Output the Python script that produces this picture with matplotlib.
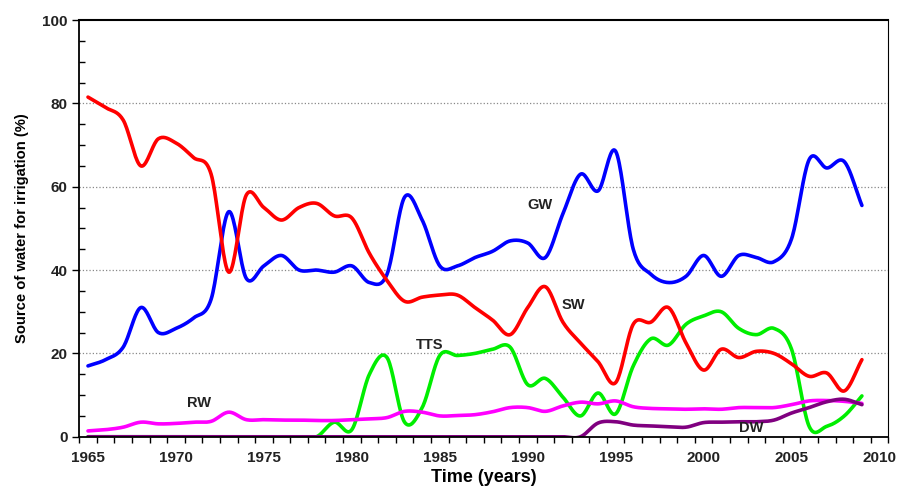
import matplotlib.pyplot as plt
import numpy as np
from matplotlib.ticker import MultipleLocator, FixedLocator

plt.rcParams['font.family'] = ['Liberation Sans', 'DejaVu Sans']

years = list(range(1965, 2010))

sw = [81.5, 79, 76, 65, 71.5, 70.5, 67, 63, 39.5, 58, 55, 52, 55, 56, 53,
      52.5, 44, 37.5, 32.5, 33.5, 34, 34, 31, 28, 24.5, 31, 36, 27.5, 22.5, 18,
      13, 27, 27.5, 31, 22.5, 16, 21, 19, 20.5, 20, 17.5, 14.5, 15.3, 11, 18.5]
gw = [17, 18.5, 21.5, 31, 25, 26, 28.5, 33, 54, 38, 41, 43.5, 40, 40, 39.5,
      41, 37, 39, 57.5, 52, 41, 41, 43, 44.5, 47, 46.5, 43, 53.5, 63, 59,
      68.5, 45, 39, 37, 38.5, 43.5, 38.5, 43.5, 43, 42, 47.5, 66.5, 64.5, 66, 55.5]
tts = [0] * 13 + [0, 3.5, 1.7, 15, 19, 3.5, 7, 19.5, 19.5, 20, 21, 21.5, 12.5, 14,
                  9.5, 5, 10.5, 5.5, 17, 23.5, 22, 27, 29, 30, 26, 24.5, 26, 21,
                  2.5, 2.5, 5, 9.8]
rw = [1.4, 1.7, 2.3, 3.5, 3.1, 3.2, 3.5, 3.7, 5.9, 4.1, 4.1, 4.0, 4.0, 3.9, 3.9,
      4.1, 4.3, 4.6, 6.1, 5.9, 5.0, 5.1, 5.3, 6.0, 7.0, 7.0, 6.1, 7.4, 8.3, 7.9,
      8.6, 7.2, 6.8, 6.7, 6.6, 6.7, 6.6, 7.0, 7.0, 7.0, 7.7, 8.6, 8.7, 8.5, 8.0]
dw = [0] * 29 + [3.3, 3.6, 2.8, 2.6, 2.4, 2.3, 3.4, 3.5, 3.6, 3.6, 4.0, 5.7,
                 7.0, 8.4, 9.0, 7.7]

series = [("TTS", tts, "#00ee00"), ("RW", rw, "#ff00ff"), ("DW", dw, "#800080"),
          ("GW", gw, "#0000ff"), ("SW", sw, "#ff0000")]
labels = {"GW": (1990.7, 55.5), "SW": (1992.6, 31.5), "TTS": (1984.4, 22),
          "RW": (1971.3, 8), "DW": (2002.7, 2.2)}


def smooth(x, y, n=20):
    # catmull-rom, like excel's smoothed line
    x = np.asarray(x, float)
    y = np.asarray(y, float)
    px = np.concatenate([[2 * x[0] - x[1]], x, [2 * x[-1] - x[-2]]])
    py = np.concatenate([[2 * y[0] - y[1]], y, [2 * y[-1] - y[-2]]])
    xs, ys = [], []
    t = np.linspace(0, 1, n, endpoint=False)
    for i in range(1, len(px) - 2):
        for p, out in ((px, xs), (py, ys)):
            p0, p1, p2, p3 = p[i - 1], p[i], p[i + 1], p[i + 2]
            out.extend(0.5 * (2 * p1 + (-p0 + p2) * t
                              + (2 * p0 - 5 * p1 + 4 * p2 - p3) * t ** 2
                              + (-p0 + 3 * p1 - 3 * p2 + p3) * t ** 3))
    xs.append(x[-1])
    ys.append(y[-1])
    return np.array(xs), np.array(ys)


fig = plt.figure(figsize=(9, 4.88), dpi=100)
ax = fig.add_axes([0.088, 0.105, 0.899, 0.854])

for name, vals, col in series:
    xs, ys = smooth(years, vals)
    ax.plot(xs, ys, color=col, lw=2.6, solid_capstyle='round')
    ax.text(*labels[name], name, ha='center', va='center', fontsize=10.5,
            fontweight='bold', color='#222222')

ax.set_xlim(1964.5, 2010.5)
ax.set_ylim(0, 100)
ax.set_xticks([1965, 1970, 1975, 1980, 1985, 1990, 1995, 2000, 2005, 2010])
ax.xaxis.set_minor_locator(FixedLocator(np.arange(1964.5, 2011, 1)))
ax.tick_params(axis='x', which='major', length=0, pad=10)
ax.tick_params(axis='x', which='minor', length=4, direction='out', width=1)
ax.yaxis.set_major_locator(MultipleLocator(20))
ax.yaxis.set_minor_locator(MultipleLocator(5))
ax.tick_params(axis='y', which='major', length=5, direction='out', width=1)
ax.tick_params(axis='y', which='minor', length=4, direction='in', width=1)
for lab in ax.get_xticklabels() + ax.get_yticklabels():
    lab.set_fontweight('bold')
    lab.set_fontsize(11)
    lab.set_color('#222222')

for y in [20, 40, 60, 80]:
    ax.axhline(y, color='#888888', lw=0.9, ls=':', zorder=0)

ax.spines['left'].set_linewidth(1.3)
ax.spines['bottom'].set_linewidth(1.3)
ax.spines['top'].set_linewidth(1.5)
ax.spines['right'].set_linewidth(0.8)

ax.set_xlabel('Time (years)', fontsize=13, fontweight='bold', labelpad=3)
ax.set_ylabel('Source of water for irrigation (%)', fontsize=10.6,
              fontweight='bold', labelpad=9)

plt.savefig('out.png')
